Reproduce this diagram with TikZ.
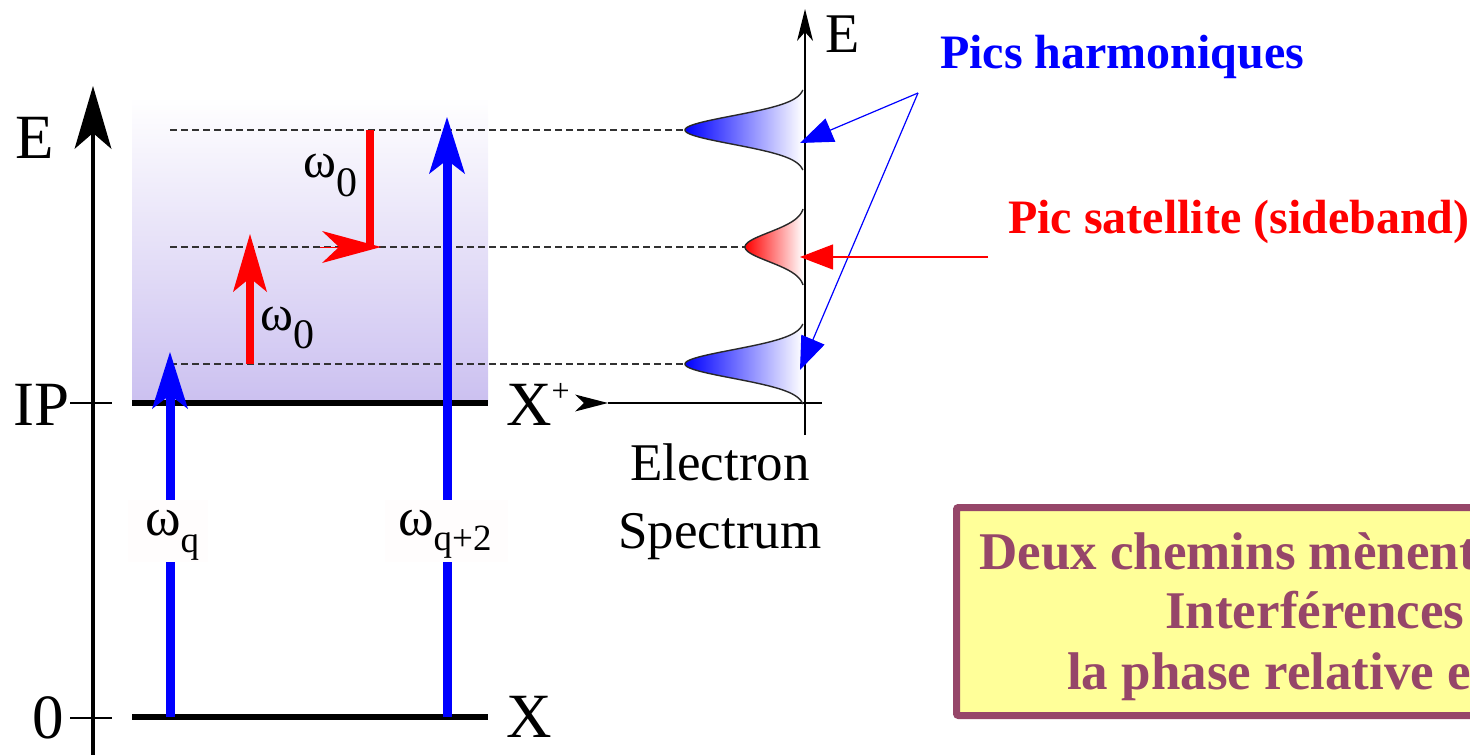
\documentclass[tikz,border=0pt]{standalone}
\usepackage{fontspec}
\setmainfont{Liberation Serif}[BoldFont={Liberation Serif Bold}]
\usetikzlibrary{arrows.meta}
\definecolor{boxborder}{RGB}{150,70,105}
\definecolor{boxfill}{RGB}{255,255,153}
\definecolor{shadebot}{RGB}{203,192,240}
\definecolor{dashgray}{RGB}{50,50,50}
\definecolor{labelbg}{RGB}{255,253,253}
\definecolor{peakgray}{RGB}{40,40,40}
\begin{document}
\begin{tikzpicture}[x=1pt,y=-1pt,
  lbl/.style={anchor=base west,inner sep=0pt,font=\fontsize{63}{70}\selectfont},
  speclbl/.style={anchor=base,inner sep=0pt,font=\fontsize{53}{60}\selectfont},
  annot/.style={anchor=base west,inner sep=0pt,font=\fontsize{48}{54}\selectfont\bfseries},
  boxtext/.style={anchor=base west,inner sep=0pt,text=boxborder,font=\fontsize{53}{60}\selectfont\bfseries},
  levelline/.style={line width=5.5pt},
  tickline/.style={line width=2pt},
  dashline/.style={draw=dashgray,line width=1.5pt,dash pattern=on 6.5pt off 4.5pt},
  bluearrow/.style={draw=blue,line width=9pt,-{Stealth[length=57pt,width=36pt,inset=14pt,line width=0pt]}},
  redarrow/.style={draw=red,line width=8pt,-{Stealth[length=58pt,width=34pt,inset=14pt,line width=0pt]}},
  pointer/.style={line width=1.2pt,-{Triangle[length=33pt,width=25pt]}},
  peakline/.style={draw=peakgray,line width=1.4pt},
  bgbox/.style={fill=labelbg,inner sep=0pt}
]
\useasboundingbox (0,0) rectangle (1470,755);
\clip (0,0) rectangle (1470,755);

% shaded continuum
\shade[top color=white,bottom color=shadebot] (132,97) rectangle (488,403);

% dashed levels
\coordinate (d1a) at (170,130); \coordinate (d1b) at (685,130);
\coordinate (d2a) at (170,247); \coordinate (d2b) at (745,247);
\coordinate (d3a) at (170,364); \coordinate (d3b) at (685,364);
\draw[dashline] (d1a) -- (d1b);
\draw[dashline] (d2a) -- (d2b);
\draw[dashline] (d3a) -- (d3b);

% energy axis
\coordinate (axb) at (93,755); \coordinate (axt) at (93,86);
\draw[line width=4.5pt,-{Stealth[length=63pt,width=37pt,inset=16pt,line width=0pt]}] (axb) -- (axt);
\coordinate (tipa) at (70,403); \coordinate (tipb) at (112,403);
\coordinate (t0a) at (70,718); \coordinate (t0b) at (112,718);
\draw[tickline] (tipa) -- (tipb);
\draw[tickline] (t0a) -- (t0b);

% levels
\coordinate (ipl) at (132,403); \coordinate (ipr) at (488,403);
\coordinate (xl) at (132,717); \coordinate (xr) at (488,717);
\draw[levelline] (ipl) -- (ipr);
\draw[line width=6pt] (xl) -- (xr);

% blue harmonic arrows
\coordinate (bq0) at (170,717); \coordinate (bq1) at (170,352);
\coordinate (bp0) at (447,717); \coordinate (bp1) at (447,117);
\draw[bluearrow] (bq0) -- (bq1);
\draw[bluearrow] (bp0) -- (bp1);
\node[bgbox,minimum width=80pt,minimum height=62pt] (wqbg) at (168,531) {};
\node[bgbox,minimum width=123pt,minimum height=62pt] (wpbg) at (446.5,531) {};
\node[anchor=base west,inner sep=0pt,font=\fontsize{54}{60}\selectfont] (wq) at (145,535)
  {ω\raisebox{-17pt}{\fontsize{37}{40}\selectfont q}};
\node[anchor=base west,inner sep=0pt,font=\fontsize{54}{60}\selectfont] (wp) at (398,535)
  {ω\raisebox{-15pt}{\fontsize{37}{40}\selectfont q+2}};

% red IR arrows
\coordinate (r0) at (250,364); \coordinate (r1) at (250,234);
\draw[redarrow] (r0) -- (r1);
\coordinate (rd0) at (370,130); \coordinate (rd1) at (370,249);
\draw[draw=red,line width=8pt] (rd0) -- (rd1);
\coordinate (rh0) at (320,247); \coordinate (rh1) at (381,247);
\draw[draw=red,line width=1pt,-{Stealth[length=59pt,width=32pt,inset=17pt,line width=0pt]}] (rh0) -- (rh1);
\node[anchor=base west,inner sep=0pt,font=\fontsize{50}{56}\selectfont] (w0a) at (303,177)
  {ω\raisebox{-19pt}{\fontsize{42}{46}\selectfont 0}};
\node[anchor=base west,inner sep=0pt,font=\fontsize{50}{56}\selectfont] (w0b) at (260,330)
  {ω\raisebox{-18pt}{\fontsize{42}{46}\selectfont 0}};

% left labels
\node[lbl] (lE) at (15,158) {E};
\node[lbl] (lIP) at (13,425) {IP};
\node[lbl] (l0) at (32,738) {0};
\node[lbl] (lX) at (506,737) {X};
\node[lbl] (lXp) at (506,425) {X\raisebox{24pt}{\fontsize{32}{34}\selectfont +}};

% spectrum axes
\coordinate (sx0) at (575,403); \coordinate (sx1) at (822,403);
\draw[line width=1.5pt,{Stealth[reversed,length=33pt,width=17pt,inset=9pt,line width=0pt]}-] (sx0) -- (sx1);
\coordinate (sy0) at (805,435); \coordinate (sy1) at (805,9);
\draw[line width=1.5pt,-{Stealth[length=32pt,width=16pt,inset=9pt,line width=0pt]}] (sy0) -- (sy1);
\node[anchor=base west,inner sep=0pt,font=\fontsize{56}{60}\selectfont] (sE) at (825,52) {E};

% peaks
\shade[left color=blue,right color=white] plot[domain=-40:40,samples=80,smooth] ({805-120*exp(-(\x*\x)/400)},{130+\x}) -- cycle;
\draw[peakline] plot[domain=-40:40,samples=80,smooth] ({805-120*exp(-(\x*\x)/400)},{130+\x});
\shade[left color=red,right color=white] plot[domain=-38:38,samples=80,smooth] ({805-60*exp(-(\x*\x)/420)},{247+\x}) -- cycle;
\draw[peakline] plot[domain=-38:38,samples=80,smooth] ({805-60*exp(-(\x*\x)/420)},{247+\x});
\shade[left color=blue,right color=white] plot[domain=-40:40,samples=80,smooth] ({805-120*exp(-(\x*\x)/400)},{364+\x}) -- cycle;
\draw[peakline] plot[domain=-40:40,samples=80,smooth] ({805-120*exp(-(\x*\x)/400)},{364+\x});

\node[speclbl] (el) at (720,480) {Electron};
\node[speclbl] (sp) at (720,548) {Spectrum};

% annotations
\node[annot,text=blue] (ph) at (940,68) {Pics harmoniques};
\node[annot,text=red] (ps) at (1008,233) {Pic satellite (sideband)};
\coordinate (pj) at (918,93);
\coordinate (pk1) at (800,143); \coordinate (pk3) at (800,370);
\draw[pointer,blue] (pj) -- (pk1);
\draw[pointer,blue] (pj) -- (pk3);
\coordinate (psa) at (988,257); \coordinate (psb) at (800,257);
\draw[pointer,red] (psa) -- (psb);

% conclusion box
\draw[draw=boxborder,fill=boxfill,line width=7pt,rounded corners=2pt] (956.5,507.5) rectangle (1600,715.5);
\node[boxtext] (b1) at (979,569) {Deux chemins mènent};
\node[boxtext] (b2) at (1165,628) {Interférences};
\node[boxtext] (b3) at (1067,689) {la phase relative e};
\end{tikzpicture}
\end{document}
